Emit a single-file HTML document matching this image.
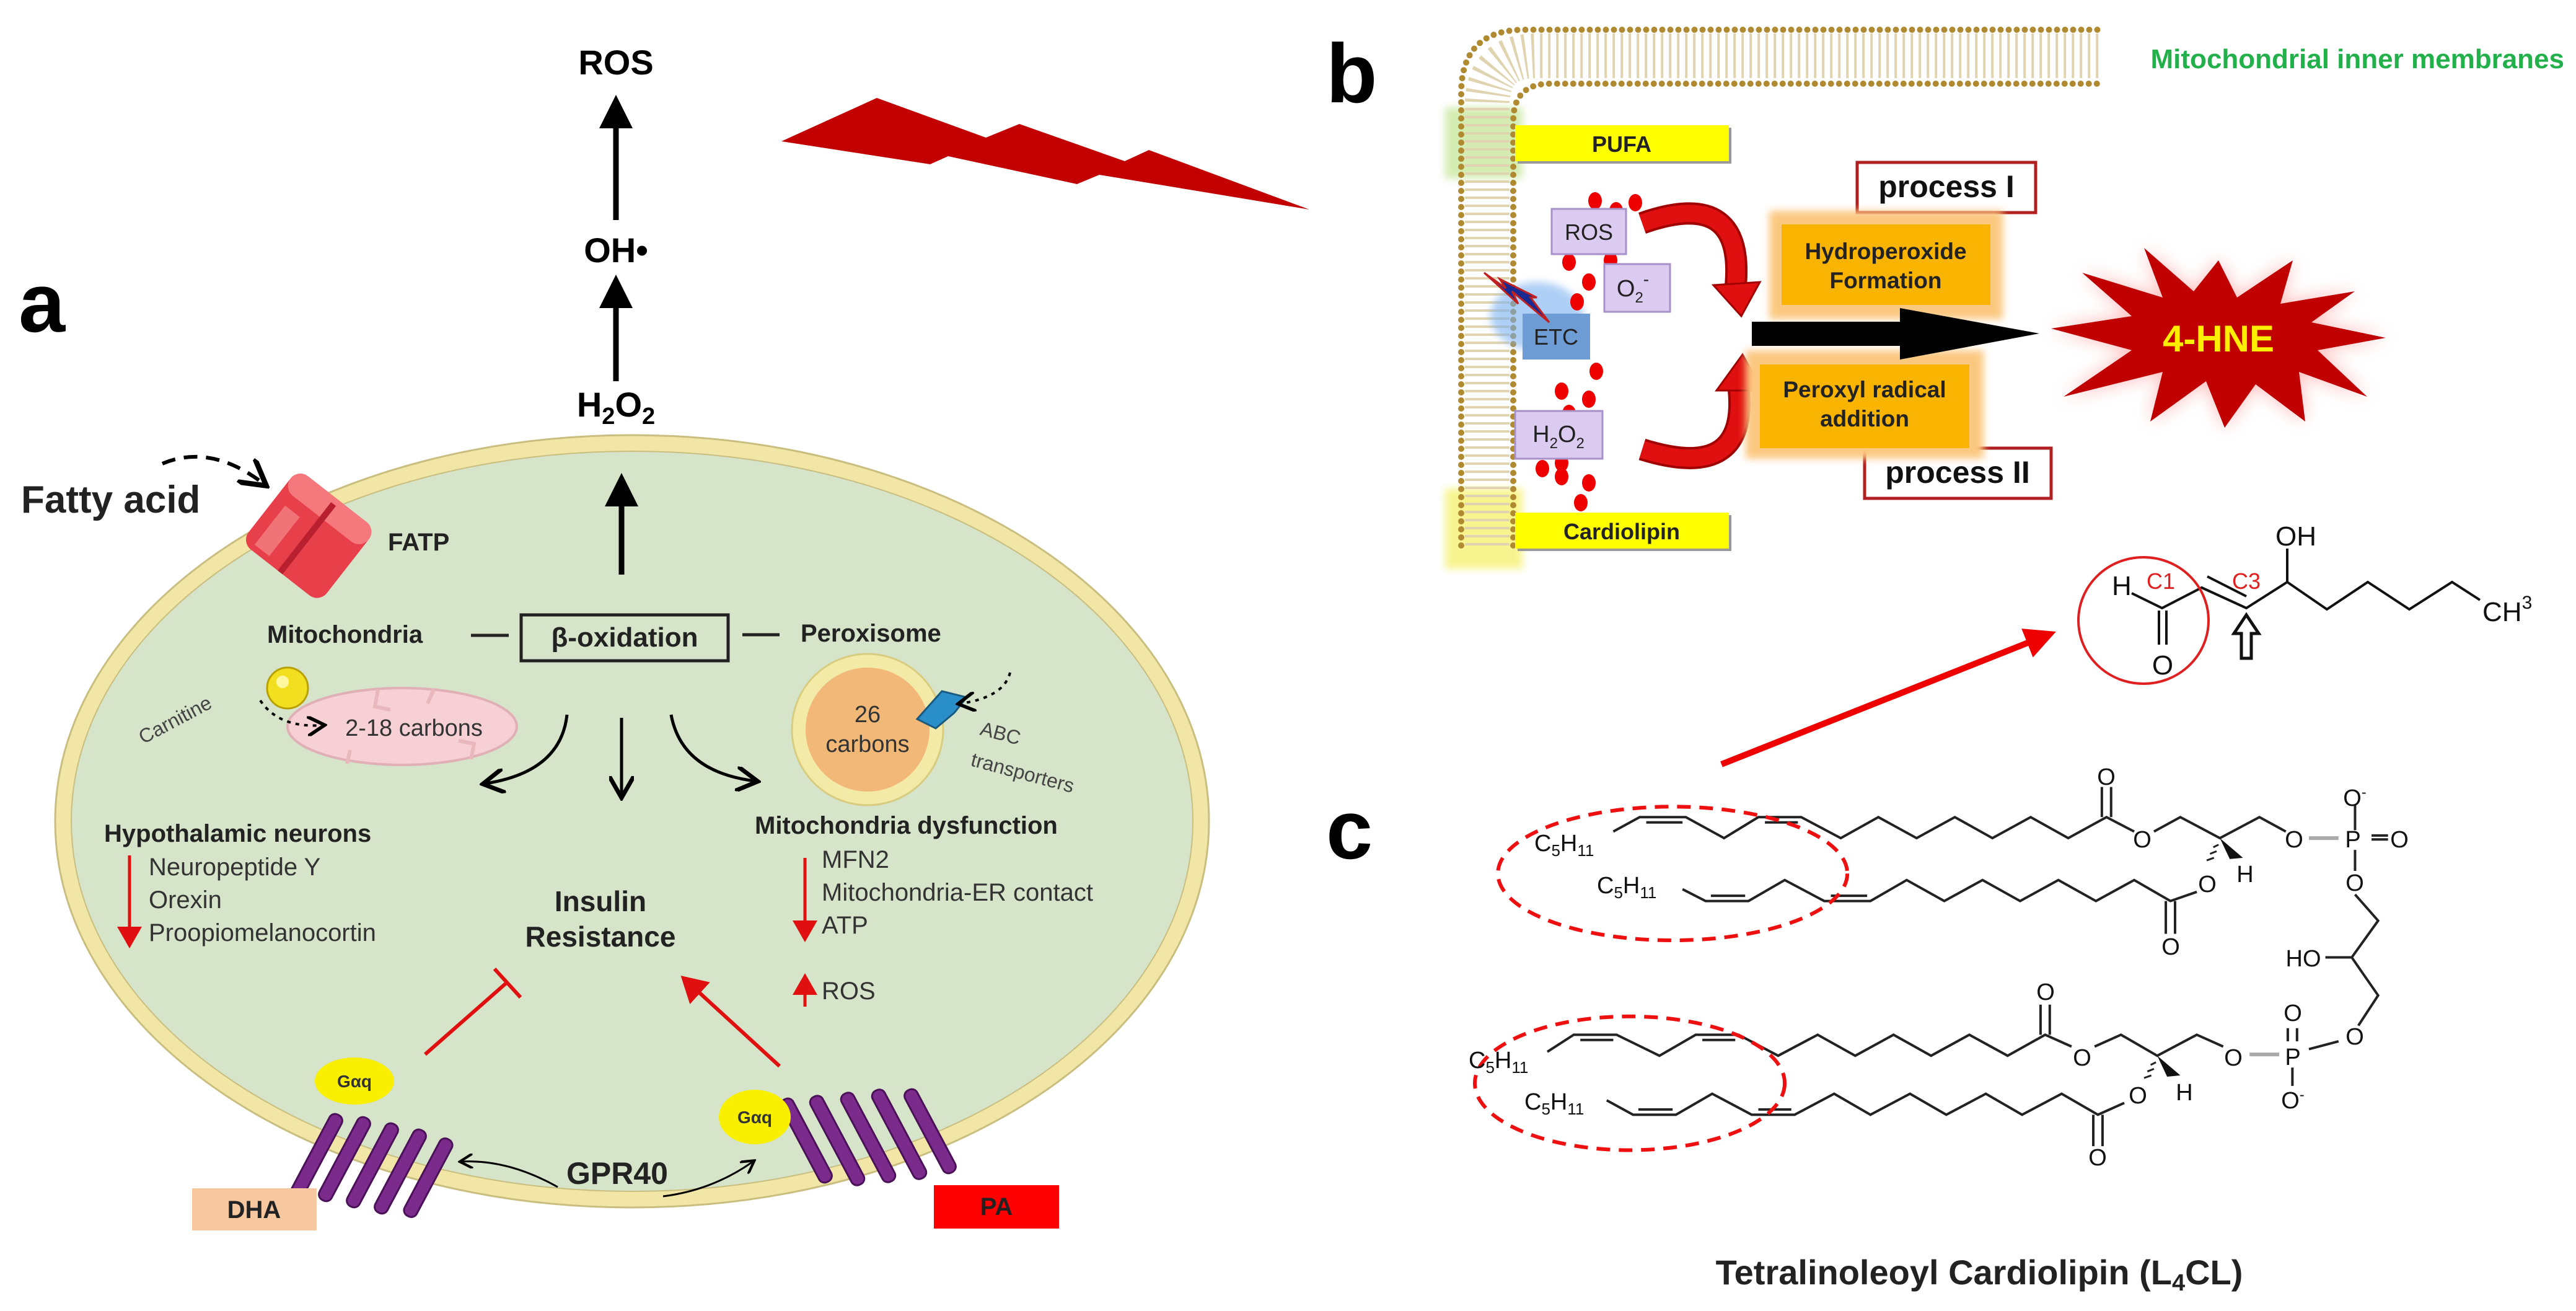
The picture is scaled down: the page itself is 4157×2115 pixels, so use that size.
<!DOCTYPE html>
<html><head><meta charset="utf-8"><style>
html,body{margin:0;padding:0;background:#fff}
svg{display:block}
text{font-family:"Liberation Sans",sans-serif}
</style></head><body>
<svg width="4157" height="2115" viewBox="0 0 4157 2115" xmlns="http://www.w3.org/2000/svg">
<defs>
<marker id="ah" markerWidth="6" markerHeight="6" refX="3" refY="3" orient="auto" markerUnits="strokeWidth"><path d="M0,0 L6,3 L0,6 z" fill="#000"/></marker>
<marker id="ahs" markerWidth="8" markerHeight="8" refX="6" refY="4" orient="auto" markerUnits="strokeWidth"><path d="M0,0 L7,4 L0,8" fill="none" stroke="#000" stroke-width="1.4"/></marker>
<marker id="ahr" markerWidth="8" markerHeight="8" refX="6" refY="4" orient="auto" markerUnits="strokeWidth"><path d="M0,0 L7,4 L0,8 z" fill="#e01010"/></marker>
<marker id="ahrr" markerWidth="5" markerHeight="5" refX="2" refY="2.5" orient="auto" markerUnits="strokeWidth"><path d="M0,0 L5,2.5 L0,5 z" fill="#e00"/></marker>
<filter id="blur" x="-30%" y="-30%" width="160%" height="160%"><feGaussianBlur stdDeviation="14"/></filter>
<filter id="blur2" x="-30%" y="-30%" width="160%" height="160%"><feGaussianBlur stdDeviation="6"/></filter>
</defs>

<!-- ===== Panel a ===== -->
<text x="30" y="535" font-size="135" font-weight="bold">a</text>
<text x="994" y="120" font-size="56" font-weight="bold" text-anchor="middle">ROS</text>
<text x="994" y="423" font-size="56" font-weight="bold" text-anchor="middle">OH•</text>
<text x="994" y="672" font-size="56" font-weight="bold" text-anchor="middle">H<tspan font-size="38" dy="12">2</tspan><tspan dy="-12">O</tspan><tspan font-size="38" dy="12">2</tspan></text>
<line x1="994" y1="615" x2="994" y2="470" stroke="#000" stroke-width="9" marker-end="url(#ah)"/>
<line x1="994" y1="355" x2="994" y2="180" stroke="#000" stroke-width="9" marker-end="url(#ah)"/>
<polygon points="1261,228 1415,158 1591,222 1645,200 1815,260 1854,242 2113,338 1774,282 1738,297 1530,252 1501,265" fill="#c20000"/>

<!-- cell -->
<ellipse cx="1020" cy="1325" rx="918" ry="610" fill="#d6e4c9" stroke="#f1e6a6" stroke-width="26"/>
<ellipse cx="1020" cy="1325" rx="931" ry="623" fill="none" stroke="#c9be80" stroke-width="3"/>
<ellipse cx="1020" cy="1325" rx="905" ry="597" fill="none" stroke="#c9be80" stroke-width="2"/>

<text x="34" y="827" font-size="62" font-weight="bold" fill="#222">Fatty acid</text>
<path d="M262,748 Q340,715 425,780" fill="none" stroke="#000" stroke-width="6" stroke-dasharray="22 14" marker-end="url(#ahs)"/>
<g transform="rotate(38 500 862)">
<rect x="420" y="790" width="160" height="150" rx="20" fill="#e8404a"/>
<rect x="420" y="790" width="160" height="40" rx="20" fill="#f4787c"/>
<rect x="495" y="800" width="10" height="140" fill="#b82030"/>
<rect x="440" y="850" width="30" height="80" fill="#f48a8a" opacity="0.7"/>
</g>
<text x="626" y="888" font-size="40" font-weight="bold" fill="#222">FATP</text>

<line x1="1003" y1="927" x2="1003" y2="790" stroke="#000" stroke-width="9" marker-end="url(#ah)"/>
<rect x="841" y="992" width="334" height="74" fill="none" stroke="#222" stroke-width="5"/>
<text x="1008" y="1043" font-size="44" font-weight="bold" text-anchor="middle" fill="#222">β-oxidation</text>
<text x="431" y="1037" font-size="40" font-weight="bold" fill="#222">Mitochondria</text>
<line x1="760" y1="1025" x2="821" y2="1025" stroke="#222" stroke-width="5"/>
<text x="1292" y="1035" font-size="40" font-weight="bold" fill="#222">Peroxisome</text>
<line x1="1198" y1="1024" x2="1258" y2="1024" stroke="#222" stroke-width="5"/>

<ellipse cx="649" cy="1172" rx="185" ry="62" fill="#f6d0d4" stroke="#e0b0b6" stroke-width="4"/>
<path d="M610,1112 L605,1140 L630,1145 M760,1225 L765,1200 L740,1195 M700,1112 L690,1135 M560,1232 L565,1210" fill="none" stroke="#e8b8be" stroke-width="6"/>
<circle cx="464" cy="1110" r="33" fill="#f2df20" stroke="#b8a000" stroke-width="3"/>
<circle cx="456" cy="1100" r="10" fill="#fff8a0"/>
<path d="M420,1130 Q450,1175 520,1170" fill="none" stroke="#000" stroke-width="4" stroke-dasharray="6 8" marker-end="url(#ahs)"/>
<text x="668" y="1187" font-size="38" text-anchor="middle" fill="#333">2-18 carbons</text>
<text x="283" y="1172" font-size="32" text-anchor="middle" fill="#444" transform="rotate(-28 283 1162)">Carnitine</text>

<circle cx="1400" cy="1177" r="122" fill="#f4eaa8" stroke="#d8cc80" stroke-width="3"/>
<circle cx="1400" cy="1177" r="100" fill="#f2b878"/>
<text x="1400" y="1165" font-size="38" text-anchor="middle" fill="#333">26</text>
<text x="1400" y="1213" font-size="38" text-anchor="middle" fill="#333">carbons</text>
<path d="M1480,1160 L1520,1115 L1560,1125 L1540,1150 L1510,1175 Z" fill="#2a8ec8" stroke="#1a5a80" stroke-width="3"/>
<path d="M1630,1085 Q1620,1125 1550,1135" fill="none" stroke="#000" stroke-width="4" stroke-dasharray="6 8" marker-end="url(#ahs)"/>
<text x="1580" y="1185" font-size="32" fill="#444" transform="rotate(15 1580 1185)">ABC</text>
<text x="1565" y="1235" font-size="32" fill="#444" transform="rotate(15 1565 1235)">transporters</text>

<path d="M915,1153 Q905,1245 784,1264" fill="none" stroke="#000" stroke-width="5" marker-end="url(#ahs)"/>
<line x1="1003" y1="1158" x2="1003" y2="1282" stroke="#000" stroke-width="5" marker-end="url(#ahs)"/>
<path d="M1083,1153 Q1100,1245 1218,1260" fill="none" stroke="#000" stroke-width="5" marker-end="url(#ahs)"/>

<text x="168" y="1358" font-size="40" font-weight="bold" fill="#222">Hypothalamic neurons</text>
<text x="240" y="1412" font-size="40" fill="#333">Neuropeptide Y</text>
<text x="240" y="1465" font-size="40" fill="#333">Orexin</text>
<text x="240" y="1518" font-size="40" fill="#333">Proopiomelanocortin</text>
<line x1="209" y1="1380" x2="209" y2="1525" stroke="#e01010" stroke-width="5" marker-end="url(#ahr)"/>

<text x="1218" y="1345" font-size="40" font-weight="bold" fill="#222">Mitochondria dysfunction</text>
<text x="1326" y="1400" font-size="40" fill="#333">MFN2</text>
<text x="1326" y="1453" font-size="40" fill="#333">Mitochondria-ER contact</text>
<text x="1326" y="1506" font-size="40" fill="#333">ATP</text>
<line x1="1299" y1="1384" x2="1299" y2="1515" stroke="#e01010" stroke-width="5" marker-end="url(#ahr)"/>
<line x1="1299" y1="1624" x2="1299" y2="1575" stroke="#e01010" stroke-width="5" marker-end="url(#ahr)"/>
<text x="1326" y="1612" font-size="40" fill="#333">ROS</text>

<text x="969" y="1470" font-size="46" font-weight="bold" text-anchor="middle" fill="#222">Insulin</text>
<text x="969" y="1527" font-size="46" font-weight="bold" text-anchor="middle" fill="#222">Resistance</text>
<line x1="686" y1="1701" x2="818" y2="1585" stroke="#e01010" stroke-width="6"/>
<line x1="798" y1="1563" x2="840" y2="1609" stroke="#e01010" stroke-width="6"/>
<line x1="1258" y1="1720" x2="1103" y2="1578" stroke="#e01010" stroke-width="6" marker-end="url(#ahr)"/>

<g fill="#7a2b8c" stroke="#4a1058" stroke-width="3">
<rect x="500" y="1790" width="22" height="150" rx="10" transform="rotate(28 511 1865)"/>
<rect x="545" y="1795" width="22" height="150" rx="10" transform="rotate(28 556 1870)"/>
<rect x="590" y="1805" width="22" height="150" rx="10" transform="rotate(28 601 1880)"/>
<rect x="635" y="1815" width="22" height="150" rx="10" transform="rotate(28 646 1890)"/>
<rect x="680" y="1830" width="22" height="140" rx="10" transform="rotate(28 691 1900)"/>
<rect x="1290" y="1765" width="22" height="150" rx="10" transform="rotate(-28 1301 1840)"/>
<rect x="1340" y="1760" width="22" height="160" rx="10" transform="rotate(-28 1351 1840)"/>
<rect x="1390" y="1755" width="22" height="160" rx="10" transform="rotate(-28 1401 1835)"/>
<rect x="1440" y="1750" width="22" height="160" rx="10" transform="rotate(-28 1451 1830)"/>
<rect x="1490" y="1750" width="22" height="150" rx="10" transform="rotate(-28 1501 1825)"/>
</g>
<ellipse cx="572" cy="1744" rx="64" ry="38" fill="#f8f000"/>
<text x="572" y="1754" font-size="28" font-weight="bold" text-anchor="middle" fill="#333">Gαq</text>
<ellipse cx="1218" cy="1802" rx="58" ry="44" fill="#f8f000"/>
<text x="1218" y="1812" font-size="28" font-weight="bold" text-anchor="middle" fill="#333">Gαq</text>
<text x="996" y="1910" font-size="50" font-weight="bold" text-anchor="middle" fill="#222">GPR40</text>
<path d="M900,1915 Q820,1870 745,1874" fill="none" stroke="#000" stroke-width="3" marker-end="url(#ahs)"/>
<path d="M1070,1930 Q1150,1920 1215,1874" fill="none" stroke="#000" stroke-width="3" marker-end="url(#ahs)"/>
<rect x="310" y="1917" width="201" height="68" fill="#f7c8a0"/>
<text x="410" y="1965" font-size="40" font-weight="bold" text-anchor="middle" fill="#222">DHA</text>
<rect x="1507" y="1912" width="202" height="70" fill="#ff0000"/>
<text x="1608" y="1960" font-size="40" font-weight="bold" text-anchor="middle" fill="#222">PA</text>

<!-- ===== Panel b ===== -->
<text x="2140" y="165" font-size="135" font-weight="bold">b</text>
<rect x="2332" y="173" width="125" height="115" fill="#b8e080" opacity="0.6" filter="url(#blur2)"/>
<rect x="2332" y="788" width="125" height="130" fill="#f4f060" opacity="0.7" filter="url(#blur2)"/>
<path d="M2400,880 L2400,170 Q2400,90 2480,90 L3392,90" fill="none" stroke="#e0d4b0" stroke-width="72" stroke-dasharray="4 9"/>
<path d="M2358,880 L2358,150 Q2358,48 2460,48 L3392,48" fill="none" stroke="#b08a30" stroke-width="10" stroke-dasharray="0 13" stroke-linecap="round"/>
<path d="M2442,880 L2442,195 Q2442,135 2502,135 L3392,135" fill="none" stroke="#b08a30" stroke-width="10" stroke-dasharray="0 13" stroke-linecap="round"/>
<text x="4138" y="110" font-size="44" font-weight="bold" fill="#22b04a" text-anchor="end">Mitochondrial inner membranes</text>

<rect x="2449" y="206" width="345" height="58" fill="#999"/>
<rect x="2445" y="202" width="345" height="58" fill="#ffff00"/>
<text x="2617" y="245" font-size="36" font-weight="bold" text-anchor="middle" fill="#222">PUFA</text>
<rect x="2449" y="831" width="345" height="58" fill="#999"/>
<rect x="2445" y="827" width="345" height="58" fill="#ffff00"/>
<text x="2617" y="870" font-size="36" font-weight="bold" text-anchor="middle" fill="#222">Cardiolipin</text>

<ellipse cx="2480" cy="510" rx="75" ry="55" fill="#7ab0f0" opacity="0.6" filter="url(#blur2)"/>
<rect x="2457" y="506" width="109" height="74" fill="#6e9cd4"/>
<text x="2511" y="556" font-size="36" text-anchor="middle" fill="#222">ETC</text>
<polygon points="2395,440 2450,490 2440,470 2500,520 2470,480 2480,480 2420,450 2430,465" fill="#1a2a90" stroke="#c02020" stroke-width="3"/>

<g fill="#ee0000">
<ellipse cx="2574" cy="324" rx="11" ry="14"/><ellipse cx="2639" cy="327" rx="11" ry="14"/><ellipse cx="2608" cy="340" rx="11" ry="14"/>
<ellipse cx="2532" cy="423" rx="11" ry="14"/><ellipse cx="2599" cy="420" rx="11" ry="14"/><ellipse cx="2564" cy="455" rx="11" ry="14"/>
<ellipse cx="2545" cy="487" rx="11" ry="14"/><ellipse cx="2576" cy="599" rx="11" ry="14"/><ellipse cx="2520" cy="631" rx="11" ry="14"/>
<ellipse cx="2564" cy="644" rx="11" ry="14"/><ellipse cx="2532" cy="667" rx="11" ry="14"/><ellipse cx="2489" cy="756" rx="11" ry="14"/>
<ellipse cx="2520" cy="747" rx="11" ry="14"/><ellipse cx="2520" cy="769" rx="11" ry="14"/><ellipse cx="2564" cy="779" rx="11" ry="14"/>
<ellipse cx="2551" cy="811" rx="11" ry="14"/><ellipse cx="2489" cy="724" rx="11" ry="14"/>
</g>
<rect x="2504" y="337" width="120" height="73" fill="#dccbf0" stroke="#a890c8" stroke-width="3"/>
<text x="2564" y="387" font-size="36" text-anchor="middle" fill="#222">ROS</text>
<rect x="2589" y="426" width="106" height="77" fill="#dccbf0" stroke="#a890c8" stroke-width="3"/>
<text x="2635" y="478" font-size="38" text-anchor="middle" fill="#222">O<tspan font-size="24" dy="10">2</tspan><tspan font-size="28" dy="-28">-</tspan></text>
<rect x="2445" y="663" width="141" height="77" fill="#dccbf0" stroke="#a890c8" stroke-width="3"/>
<text x="2515" y="713" font-size="38" text-anchor="middle" fill="#222">H<tspan font-size="24" dy="10">2</tspan><tspan dy="-10">O</tspan><tspan font-size="24" dy="10">2</tspan></text>

<path d="M2650,360 Q2820,300 2800,470" fill="none" stroke="#a00000" stroke-width="36"/>
<path d="M2650,360 Q2820,300 2800,470" fill="none" stroke="#e01010" stroke-width="28"/>
<polygon points="2765,460 2840,455 2810,510" fill="#e01010" stroke="#a00000" stroke-width="3"/>
<path d="M2650,725 Q2825,780 2805,620" fill="none" stroke="#a00000" stroke-width="36"/>
<path d="M2650,725 Q2825,780 2805,620" fill="none" stroke="#e01010" stroke-width="28"/>
<polygon points="2770,630 2845,630 2812,572" fill="#e01010" stroke="#a00000" stroke-width="3"/>

<rect x="2997" y="262" width="288" height="81" fill="#fff" stroke="#b02020" stroke-width="5"/>
<text x="3141" y="318" font-size="50" font-weight="bold" text-anchor="middle" fill="#111">process I</text>
<rect x="3009" y="723" width="301" height="81" fill="#fff" stroke="#b02020" stroke-width="5"/>
<text x="3159" y="779" font-size="50" font-weight="bold" text-anchor="middle" fill="#111">process II</text>

<rect x="2855" y="340" width="377" height="175" fill="#fbc880" filter="url(#blur2)"/>
<rect x="2875" y="362" width="337" height="130" fill="#f8b400"/>
<text x="3043" y="418" font-size="37" font-weight="bold" text-anchor="middle" fill="#222">Hydroperoxide</text>
<text x="3043" y="465" font-size="37" font-weight="bold" text-anchor="middle" fill="#222">Formation</text>
<rect x="2817" y="565" width="384" height="175" fill="#fbc880" filter="url(#blur2)"/>
<rect x="2840" y="588" width="338" height="135" fill="#f8b400"/>
<text x="3009" y="641" font-size="37" font-weight="bold" text-anchor="middle" fill="#222">Peroxyl radical</text>
<text x="3009" y="688" font-size="37" font-weight="bold" text-anchor="middle" fill="#222">addition</text>

<polygon points="2827,519 3066,519 3066,497 3291,538 3066,580 3066,558 2827,558" fill="#000"/>

<polygon points="3580,420 3610,480 3700,420 3680,490 3800,470 3730,520 3850,545 3740,565 3820,640 3710,600 3720,680 3640,620 3590,690 3560,615 3470,680 3490,600 3330,640 3440,565 3310,530 3440,510 3360,440 3490,480 3460,400 3540,470" fill="#ff8080" opacity="0.55" filter="url(#blur)"/>
<polygon points="3580,420 3610,480 3700,420 3680,490 3800,470 3730,520 3850,545 3740,565 3820,640 3710,600 3720,680 3640,620 3590,690 3560,615 3470,680 3490,600 3330,640 3440,565 3310,530 3440,510 3360,440 3490,480 3460,400 3540,470" fill="#c00000"/>
<text x="3580" y="567" font-size="60" font-weight="bold" text-anchor="middle" fill="#ffee00">4-HNE</text>

<!-- ===== Panel c ===== -->
<text x="2140" y="1385" font-size="135" font-weight="bold">c</text>
<line x1="2778" y1="1233" x2="3290" y2="1030" stroke="#e00" stroke-width="10" marker-end="url(#ahrr)"/>

<g fill="none" stroke="#111" stroke-width="4">
<path d="M3440,957 L3489,981 L3553,948 L3625,981 L3691,939 L3755,983 L3821,939 L3888,983 L3957,939 L4002,968"/>
<path d="M3562,930 L3625,962"/>
<path d="M3691,939 L3691,885"/>
<path d="M3484,985 L3484,1040 M3496,985 L3496,1040"/>
</g>
<polygon points="3625,992 3645,1022 3633,1022 3633,1062 3617,1062 3617,1022 3605,1022" fill="#fff" stroke="#111" stroke-width="5"/>
<ellipse cx="3459" cy="1001" rx="105" ry="102" fill="none" stroke="#e02020" stroke-width="4"/>
<text x="3408" y="960" font-size="44" fill="#111">H</text>
<text x="3487" y="950" font-size="36" fill="#e02020" text-anchor="middle">C1</text>
<text x="3625" y="950" font-size="36" fill="#e02020" text-anchor="middle">C3</text>
<text x="3490" y="1088" font-size="44" fill="#111" text-anchor="middle">O</text>
<text x="3705" y="880" font-size="44" fill="#111" text-anchor="middle">OH</text>
<text x="4006" y="1002" font-size="44" fill="#111">CH<tspan font-size="30" dy="-20">3</tspan></text>

<g transform="translate(2380,1240) scale(1.064,0.423)" fill="none" stroke="#222" stroke-width="4">
<path vector-effect="non-scaling-stroke" d="M210,240 L250,185 L320,185 L378,265 L430,185 L495,185 L555,265 L612,185 L670,265 L728,185 L785,265 L843,185 L900,265 L958,185 L1000,240 M1030,240 L1070,185 L1130,265 L1190,185 L1230,240"/>
<path vector-effect="non-scaling-stroke" d="M260,205 L315,205 M440,205 L490,205"/>
<path vector-effect="non-scaling-stroke" d="M951,185 L951,70 M965,185 L965,70"/>
<path vector-effect="non-scaling-stroke" d="M315,460 L350,505 L415,505 L470,425 L530,505 L600,505 L655,425 L712,505 L770,425 L827,505 L885,425 L942,505 L1000,425 L1055,505 L1095,470"/>
<path vector-effect="non-scaling-stroke" d="M358,485 L410,485 M540,485 L595,485"/>
<path vector-effect="non-scaling-stroke" d="M1048,505 L1048,630 M1062,505 L1062,630"/>
<path vector-effect="non-scaling-stroke" d="M1335,140 L1335,235 M1335,310 L1335,390 M1335,480 L1370,580 L1330,720 L1370,865 L1340,980 M1290,720 L1330,720"/>
<path vector-effect="non-scaling-stroke" d="M1360,270 L1385,270 M1360,255 L1385,255"/>
<path vector-effect="non-scaling-stroke" stroke="#aaa" stroke-width="6" d="M1265,265 L1310,265 M1175,1090 L1220,1090"/>
<path vector-effect="non-scaling-stroke" d="M110,1080 L150,1015 L215,1015 L280,1095 L335,1015 L400,1015 L460,1095 L520,1015 L577,1095 L635,1015 L692,1095 L750,1015 L808,1095 L865,1015 L905,1060 M940,1060 L980,1015 L1035,1095 L1095,1015 L1135,1060"/>
<path vector-effect="non-scaling-stroke" d="M160,1035 L210,1035 M345,1035 L395,1035"/>
<path vector-effect="non-scaling-stroke" d="M858,1015 L858,900 M872,1015 L872,900"/>
<path vector-effect="non-scaling-stroke" d="M1233,1040 L1233,990 M1247,1040 L1247,990 M1240,1140 L1240,1210 M1265,1070 L1310,1040"/>
<path vector-effect="non-scaling-stroke" d="M200,1265 L240,1320 L305,1320 L360,1240 L420,1320 L485,1320 L545,1240 L600,1320 L660,1240 L715,1320 L775,1240 L830,1320 L890,1240 L945,1320 L985,1275"/>
<path vector-effect="non-scaling-stroke" d="M248,1300 L300,1300 M430,1300 L480,1300"/>
<path vector-effect="non-scaling-stroke" d="M938,1320 L938,1440 M952,1320 L952,1440"/>
<polygon points="1130,265 1165,340 1145,345" fill="#111" stroke="none"/>
<polygon points="1035,1095 1070,1170 1050,1175" fill="#111" stroke="none"/>
<path vector-effect="non-scaling-stroke" d="M1128,290 L1120,300 M1125,315 L1115,325 M1121,340 L1110,350 M1033,1120 L1025,1130 M1030,1145 L1020,1155 M1026,1170 L1015,1180" stroke-width="3"/>
<ellipse vector-effect="non-scaling-stroke" cx="300" cy="400" rx="265" ry="255" stroke="#ee1010" stroke-width="6" stroke-dasharray="22 14"/>
<ellipse vector-effect="non-scaling-stroke" cx="235" cy="1200" rx="235" ry="255" stroke="#ee1010" stroke-width="6" stroke-dasharray="22 14"/>
</g>
<g font-size="38" fill="#111">
<text x="2476" y="1373">C<tspan font-size="26" dy="8">5</tspan><tspan dy="-8">H</tspan><tspan font-size="26" dy="8">11</tspan></text>
<text x="2577" y="1441">C<tspan font-size="26" dy="8">5</tspan><tspan dy="-8">H</tspan><tspan font-size="26" dy="8">11</tspan></text>
<text x="2370" y="1723">C<tspan font-size="26" dy="8">5</tspan><tspan dy="-8">H</tspan><tspan font-size="26" dy="8">11</tspan></text>
<text x="2460" y="1790">C<tspan font-size="26" dy="8">5</tspan><tspan dy="-8">H</tspan><tspan font-size="26" dy="8">11</tspan></text>
<g text-anchor="middle">
<text x="3399" y="1266">O</text>
<text x="3457" y="1367">O</text>
<text x="3702" y="1367">O</text>
<text x="3797" y="1367">P</text>
<text x="3872" y="1367">O</text>
<text x="3800" y="1300">O<tspan font-size="24" dy="-14">-</tspan></text>
<text x="3800" y="1437">O</text>
<text x="3623" y="1423">H</text>
<text x="3562" y="1439">O</text>
<text x="3503" y="1540">O</text>
<text x="3717" y="1559">HO</text>
<text x="3800" y="1685">O</text>
<text x="3301" y="1613">O</text>
<text x="3360" y="1719">O</text>
<text x="3604" y="1719">O</text>
<text x="3700" y="1718">P</text>
<text x="3700" y="1647">O</text>
<text x="3700" y="1788">O<tspan font-size="24" dy="-14">-</tspan></text>
<text x="3525" y="1775">H</text>
<text x="3450" y="1780">O</text>
<text x="3385" y="1880">O</text>
</g>
</g>

<text x="3194" y="2072" font-size="56" font-weight="bold" text-anchor="middle" fill="#222">Tetralinoleoyl Cardiolipin (L<tspan font-size="38" dy="10">4</tspan><tspan dy="-10">CL)</tspan></text>
</svg>
</body></html>
